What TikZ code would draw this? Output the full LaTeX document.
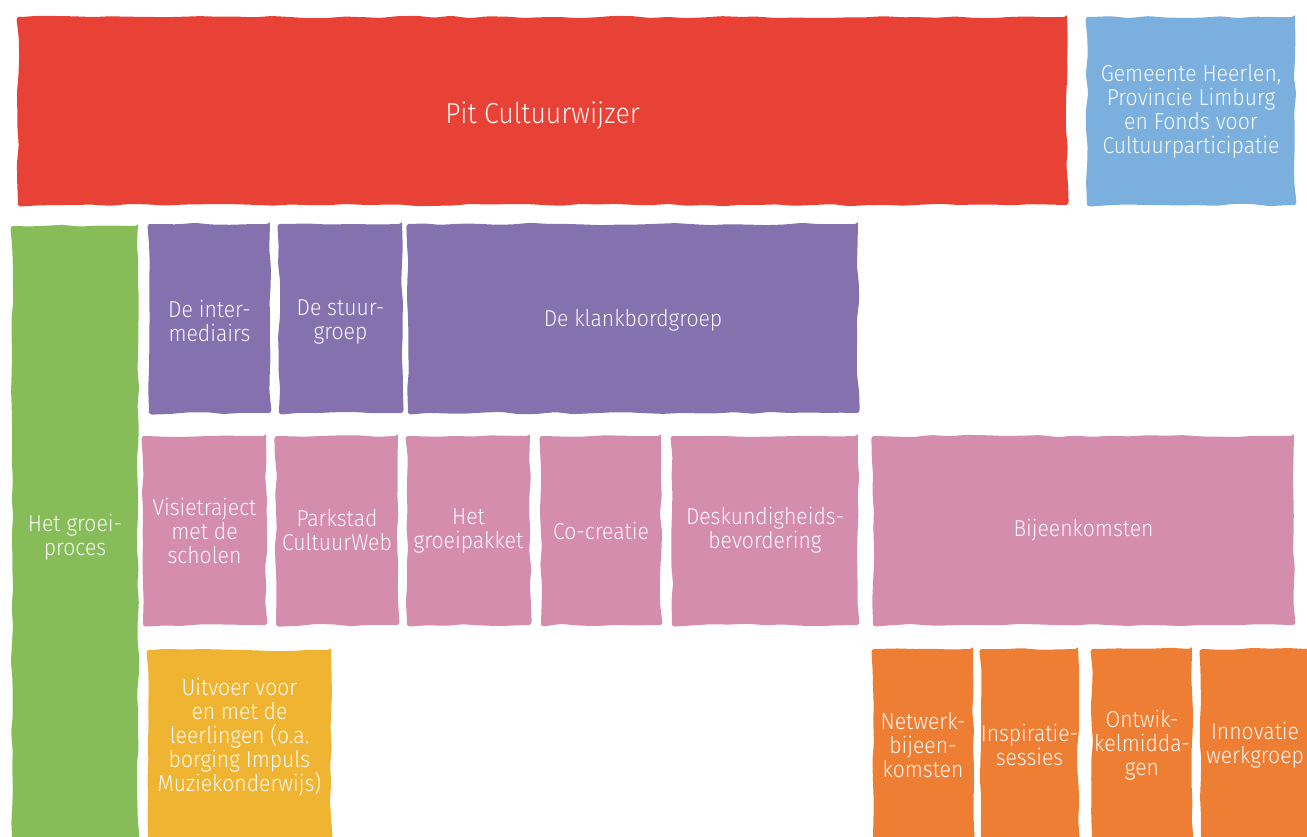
\documentclass[tikz,border=0pt]{standalone}
\usepackage{fontspec}
\setmainfont{Fira Sans}[UprightFont={* Light}, FakeStretch=0.92]
\usetikzlibrary{decorations.pathmorphing}

\definecolor{pitred}{HTML}{E84135}
\definecolor{fondsblue}{HTML}{7AAFDE}
\definecolor{groeigreen}{HTML}{86BD59}
\definecolor{groeppurple}{HTML}{8671AF}
\definecolor{stappink}{HTML}{D48DAD}
\definecolor{uitvoeryellow}{HTML}{F0B433}
\definecolor{bijeenorange}{HTML}{EE7E33}

\newcommand{\tekstzak}[1]{\rule{0pt}{#1}}

\tikzset{
  blok/.style={fill=#1, text=white!94!#1, inner sep=0pt, outer sep=0pt,
    align=center, rounded corners=3pt,
    decorate, decoration={random steps, segment length=18pt, amplitude=1.2pt}},
  blok/.default=pitred
}

\begin{document}
\pgfmathsetseed{7}
\begin{tikzpicture}[x=1pt,y=-1pt,font=\fontsize{23}{24}\selectfont]
		\useasboundingbox (0,0) rectangle (1307,836);
		% bovenste rij
		\node[blok=pitred, minimum width=1049, minimum height=188] (pit) at (542.5,111) {\fontsize{29}{30}\selectfont\tekstzak{31pt}Pit Cultuurwijzer};
		\node[blok=fondsblue, minimum width=208, minimum height=188] (fonds) at (1191,111) {Gemeente Heerlen,\\Provincie Limburg\\en Fonds voor\\Cultuurparticipatie};
		% het groeiproces
		\node[blok=groeigreen, minimum width=126, minimum height=614] (groei) at (75,533) {\tekstzak{25pt}Het groei-\\proces};
		% de groepen
		\node[blok=groeppurple, minimum width=121, minimum height=189] (inter) at (209.5,318.5) {\tekstzak{23pt}De inter-\\mediairs};
		\node[blok=groeppurple, minimum width=123, minimum height=189] (stuur) at (340.5,318.5) {\tekstzak{23pt}De stuur-\\groep};
		\node[blok=groeppurple, minimum width=450, minimum height=189] (klank) at (633,318.5) {\tekstzak{21pt}De klankbordgroep};
		% de onderdelen
		\node[blok=stappink, minimum width=123, minimum height=189] (visie) at (204.5,530.5) {Visietraject\\met de\\scholen};
		\node[blok=stappink, minimum width=122, minimum height=189] (web) at (337,530.5) {Parkstad\\CultuurWeb};
		\node[blok=stappink, minimum width=123, minimum height=189] (pakket) at (468.5,530.5) {Het\\groeipakket};
		\node[blok=stappink, minimum width=120, minimum height=189] (cocreatie) at (601,530.5) {Co-creatie};
		\node[blok=stappink, minimum width=186, minimum height=189] (deskundig) at (765,530.5) {Deskundigheids-\\bevordering};
		\node[blok=stappink, minimum width=421, minimum height=189] (bijeen) at (1083.5,530.5) {Bijeenkomsten};
		% uitvoer
		\node[blok=uitvoeryellow, minimum width=183, minimum height=190] (uitvoer) at (239.5,745) {Uitvoer voor\\en met de\\leerlingen (o.a.\\borging Impuls\\Muziekonderwijs)\rule[-21pt]{0pt}{0pt}};
		% soorten bijeenkomsten
		\node[blok=bijeenorange, minimum width=100, minimum height=192] (netwerk) at (923,745) {Netwerk-\\bijeen-\\komsten};
		\node[blok=bijeenorange, minimum width=97, minimum height=192] (inspiratie) at (1029.5,745) {Inspiratie-\\sessies};
		\node[blok=bijeenorange, minimum width=100, minimum height=192] (ontwik) at (1142,745) {Ontwik-\\kelmidda-\\gen};
		\node[blok=bijeenorange, minimum width=108, minimum height=192] (innovatie) at (1255,745) {Innovatie\\werkgroep};
	\end{tikzpicture}
\end{document}
